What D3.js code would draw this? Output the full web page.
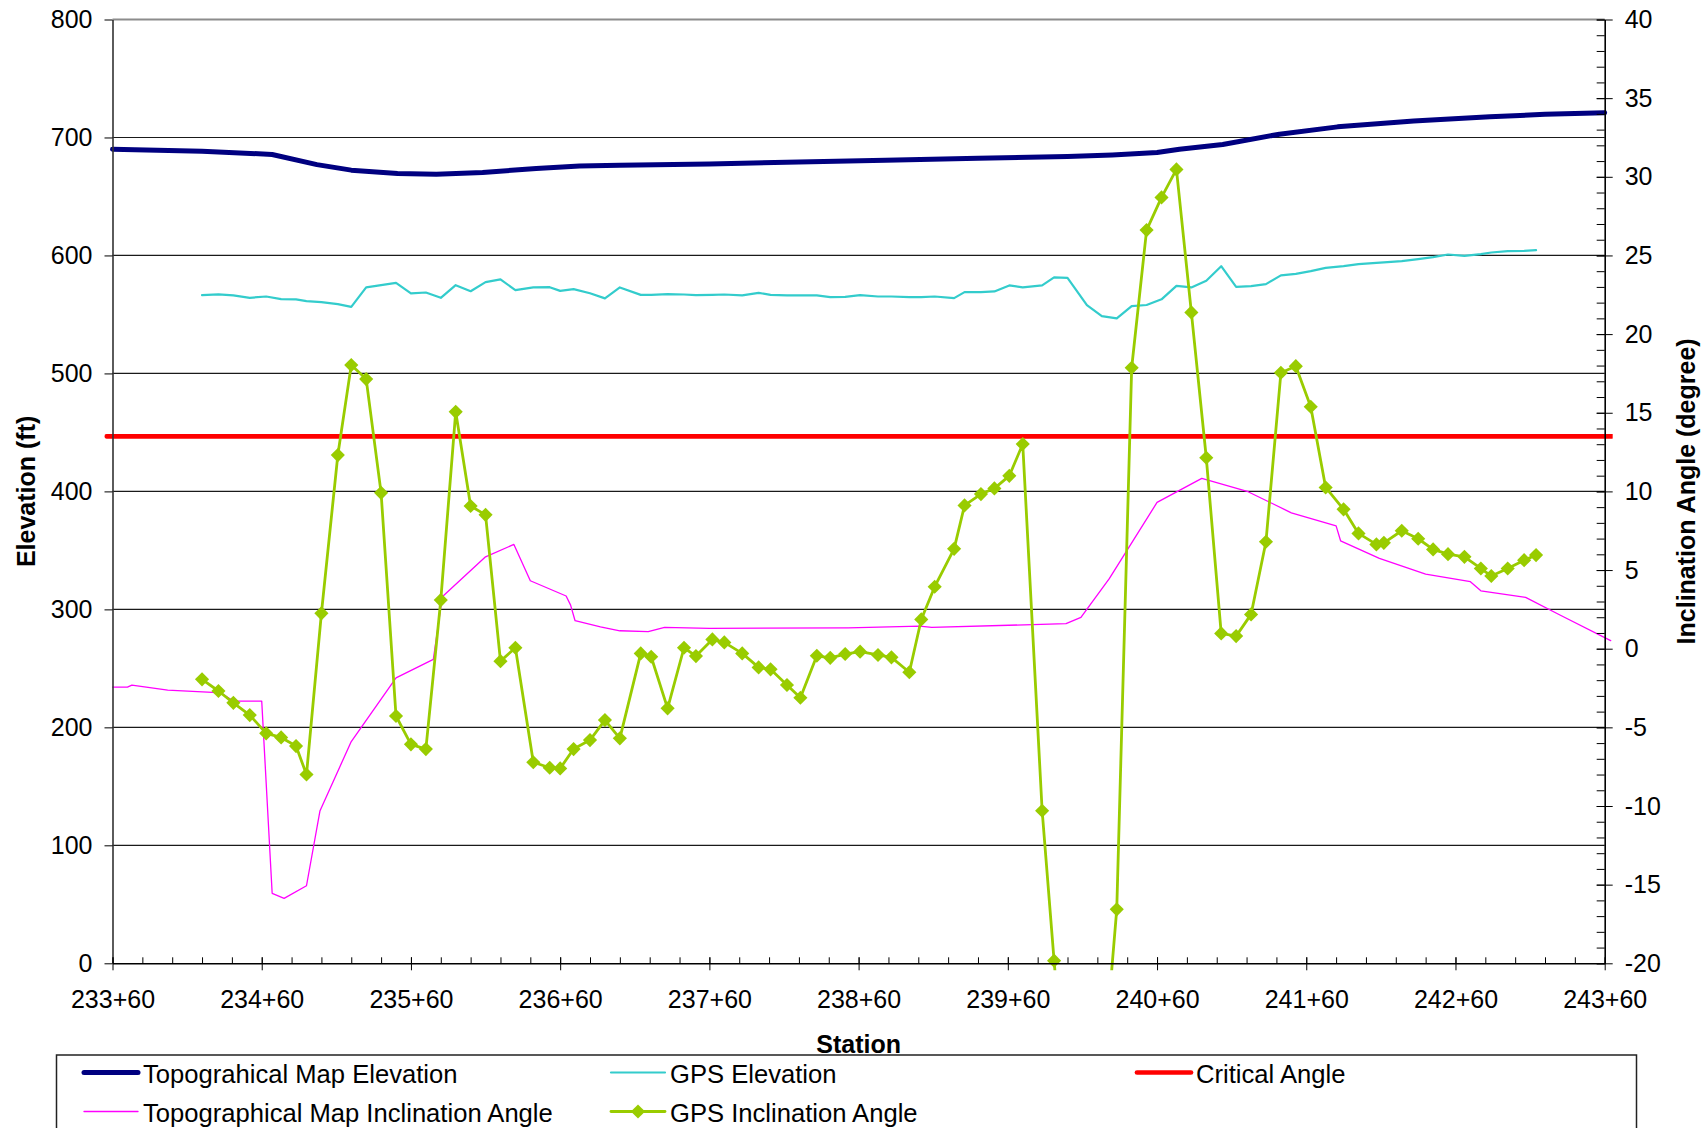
<!DOCTYPE html>
<html lang="en">
<head>
<meta charset="UTF-8">
<title>Elevation and Inclination Angle</title>
<script src="https://d3js.org/d3.v7.min.js"></script>
<style>
  body { margin: 0; background: #fff; }
  svg text { font-family: "Liberation Sans", Arial, sans-serif; fill: #000; }
</style>
</head>
<body>
<svg width="1708" height="1128"></svg>
<script>
    // Topographical map elevation (ft) by station (ft)
    const topoStation = [23360, 23420, 23467, 23497, 23520, 23551, 23577, 23608, 23644, 23673,
        23700, 23760, 23820, 23878, 23940, 24000, 24030, 24060, 24075, 24104,
        24142, 24181, 24232, 24283, 24320, 24360];
    const topoElev = [690.0, 688.4, 685.6, 677.0, 672.3, 669.5, 668.9, 670.3, 673.7, 675.8,
        676.5, 677.5, 679.3, 680.7, 682.3, 683.8, 685.2, 687.3, 690.0, 694.0,
        702.8, 709.0, 714.0, 717.5, 719.6, 721.0];

    // Topographical map inclination angle (degree)
    const topoAngStation = [23360, 23370, 23373, 23397, 23427, 23433, 23441, 23460, 23467, 23475,
        23490, 23499, 23520, 23550, 23575, 23581, 23610, 23629, 23640, 23664,
        23667, 23670, 23687, 23700, 23719, 23730, 23760, 23853, 23901, 23909,
        23999, 24009, 24028, 24060, 24090, 24121, 24150, 24180, 24183, 24209,
        24240, 24270, 24277, 24307, 24330, 24364];
    const topoAngle = [-2.44, -2.44, -2.31, -2.63, -2.78, -2.84, -3.33, -3.33, -15.55, -15.87,
        -15.07, -10.32, -5.9, -1.85, -0.68, 3.3, 5.84, 6.63, 4.32, 3.35,
        2.77, 1.78, 1.39, 1.14, 1.08, 1.36, 1.29, 1.33, 1.44, 1.36,
        1.59, 1.99, 4.45, 9.3, 10.83, 9.98, 8.64, 7.81, 6.86, 5.74,
        4.74, 4.26, 3.68, 3.26, 2.14, 0.51];

    // GPS survey: station, elevation (ft), inclination angle (degree)
    const gpsStation = [23420, 23431, 23441, 23452, 23463, 23473, 23483, 23490, 23500, 23511,
        23520, 23530, 23540, 23550, 23560, 23570, 23580, 23590, 23600, 23610,
        23620, 23630, 23642, 23653, 23660, 23669, 23680, 23690, 23700, 23714,
        23721, 23732, 23743, 23751, 23762, 23770, 23782, 23793, 23801, 23812,
        23821, 23832, 23841, 23851, 23861, 23873, 23882, 23894, 23902, 23911,
        23924, 23931, 23942, 23951, 23961, 23970, 23983, 23991, 24000, 24013,
        24023, 24033, 24043, 24053, 24063, 24073, 24083, 24093, 24103, 24113,
        24123, 24133, 24143, 24153, 24163, 24173, 24185, 24195, 24207, 24212,
        24224, 24235, 24245, 24255, 24266, 24277, 24284, 24295, 24306, 24314];
    const gpsElev = [566.4, 567.0, 566.1, 564.1, 565.2, 563.0, 562.7, 561.3, 560.4, 558.7,
        556.4, 572.9, 574.8, 576.8, 567.8, 568.6, 564.1, 574.8, 569.7, 577.4,
        579.7, 570.6, 572.9, 573.1, 570.0, 571.5, 568.0, 563.6, 572.9, 566.6,
        566.6, 567.2, 566.9, 566.4, 566.6, 566.9, 566.1, 568.3, 566.6, 566.1,
        566.1, 566.1, 564.7, 564.9, 566.4, 565.2, 565.2, 564.7, 564.7, 565.2,
        563.8, 568.9, 568.9, 569.5, 574.6, 572.9, 574.6, 581.4, 581.0, 557.9,
        548.6, 546.6, 557.0, 558.0, 562.8, 574.2, 572.9, 578.5, 590.9, 573.4,
        574.0, 575.7, 583.1, 584.4, 586.7, 589.5, 590.9, 592.6, 593.7, 594.1,
        595.2, 596.9, 598.6, 600.8, 599.7, 601.1, 602.5, 603.6, 603.9, 604.5];
    const gpsAngle = [-1.95, -2.69, -3.44, -4.22, -5.38, -5.64, -6.19, -8.0, 2.25, 12.31,
        18.03, 17.14, 9.91, -4.28, -6.08, -6.38, 3.09, 15.06, 9.07, 8.51,
        -0.79, 0.06, -7.22, -7.57, -7.61, -6.38, -5.81, -4.54, -5.70, -0.30,
        -0.51, -3.79, 0.06, -0.47, 0.59, 0.40, -0.30, -1.19, -1.31, -2.31,
        -3.12, -0.45, -0.58, -0.34, -0.19, -0.40, -0.55, -1.50, 1.86, 3.94,
        6.35, 9.11, 9.83, 10.19, 10.99, 13.01, -10.30, -19.83, -30, -40,
        -28, -16.57, 17.86, 26.61, 28.69, 30.47, 21.38, 12.14, 0.97, 0.80,
        2.18, 6.80, 17.54, 17.96, 15.38, 10.25, 8.86, 7.33, 6.63, 6.73,
        7.50, 6.99, 6.31, 6.01, 5.84, 5.10, 4.62, 5.10, 5.63, 5.95];

    // Critical angle (degree)
    const critStation = [23356, 24365];
    const critAngle = [13.5, 13.5];

    const elevTicks = d3.range(0, 801, 100);
    const angleTicks = d3.range(-20, 41, 5);
    const angleMinor = d3.range(-20, 41, 1);
    const stationTicks = d3.range(23360, 24361, 100);
    const stationMinor = d3.range(23360, 24361, 20);

    const plot = {left: 112.5, right: 1604.7, top: 19.5, bottom: 963.3};
    const svg = d3.select('svg');

    const x = d3.scaleLinear().domain([23360, 24360]).range([plot.left, plot.right]);
    const yL = d3.scaleLinear().domain([0, 800]).range([plot.bottom, plot.top]);
    const yR = d3.scaleLinear().domain([-20, 40]).range([plot.bottom, plot.top]);

    const fmtStation = v => Math.floor(v / 100) + '+' + String(v % 100).padStart(2, '0');

    // gridlines
    svg.append('g')
        .selectAll('line')
        .data(elevTicks.filter(d => d > 0 && d < 800))
        .enter().append('line')
        .attr('x1', plot.left).attr('x2', plot.right)
        .attr('y1', d => yL(d)).attr('y2', d => yL(d))
        .style('stroke', '#1a1a1a').style('stroke-width', 1.2);
    svg.append('line')
        .attr('x1', plot.left).attr('x2', plot.right)
        .attr('y1', plot.top).attr('y2', plot.top)
        .style('stroke', '#8c8c8c').style('stroke-width', 2);

    // clip (Excel lets lines run a few px past the plot edge)
    svg.append('clipPath').attr('id', 'clip')
        .append('rect')
        .attr('x', plot.left - 8).attr('y', plot.top - 8)
        .attr('width', plot.right - plot.left + 16)
        .attr('height', plot.bottom - plot.top + 15);

    const series = svg.append('g').attr('clip-path', 'url(#clip)');

    function drawLine(xs, ys, yScale, color, w) {
        const pts = xs.map((s, i) => [x(s), yScale(ys[i])]);
        series.append('path')
            .attr('d', d3.line()(pts))
            .style('fill', 'none')
            .style('stroke', color)
            .style('stroke-width', w)
            .style('stroke-linejoin', 'round')
            .style('stroke-linecap', 'round');
    }

    drawLine(topoStation, topoElev, yL, '#000080', 5);
    drawLine(gpsStation, gpsElev, yL, '#33CCCC', 2.2);
    drawLine(critStation, critAngle, yR, '#FF0000', 4.7);
    drawLine(topoAngStation, topoAngle, yR, '#FF00FF', 1.3);
    drawLine(gpsStation, gpsAngle, yR, '#99CC00', 2.8);

    const diamond = d3.symbol(d3.symbolSquare, 100);
    svg.append('g')
        .selectAll('path')
        .data(gpsStation.map((s, i) => [s, gpsAngle[i]]).filter(d => d[1] >= -20.5))
        .enter().append('path')
        .attr('d', diamond)
        .attr('transform', d => `translate(${x(d[0])},${yR(d[1])}) rotate(45)`)
        .style('fill', '#99CC00');

    // left axis
    const gLeft = svg.append('g')
        .attr('transform', `translate(${plot.left},0)`)
        .call(d3.axisLeft(yL).tickValues(elevTicks).tickSize(8).tickPadding(12).tickSizeOuter(0));
    gLeft.select('.domain').style('stroke', '#333').style('stroke-width', 1.6);
    gLeft.selectAll('text').style('font-size', '25px');

    // right axis
    const gRightMinor = svg.append('g')
        .attr('transform', `translate(${plot.right},0)`)
        .call(d3.axisRight(yR).tickValues(angleMinor).tickSize(-8).tickFormat('').tickSizeOuter(0));
    gRightMinor.select('.domain').remove();
    const gRight = svg.append('g')
        .attr('transform', `translate(${plot.right},0)`)
        .call(d3.axisRight(yR).tickValues(angleTicks).tickSize(8).tickPadding(12)
            .tickFormat(d => String(d)).tickSizeOuter(0));
    gRight.selectAll('.tick line').attr('x1', -8);
    gRight.select('.domain').style('stroke', '#000').style('stroke-width', 1.6);
    gRight.selectAll('text').style('font-size', '25px');

    // bottom axis
    const gBottomMinor = svg.append('g')
        .attr('transform', `translate(0,${plot.bottom})`)
        .call(d3.axisBottom(x).tickValues(stationMinor).tickSize(-6).tickFormat('').tickSizeOuter(0));
    gBottomMinor.select('.domain').remove();
    const gBottom = svg.append('g')
        .attr('transform', `translate(0,${plot.bottom})`)
        .call(d3.axisBottom(x).tickValues(stationTicks).tickSize(7).tickPadding(20)
            .tickFormat(fmtStation).tickSizeOuter(0));
    gBottom.selectAll('.tick line').attr('y1', -6);
    gBottom.select('.domain').style('stroke', '#000').style('stroke-width', 1.6);
    gBottom.selectAll('text').style('font-size', '25px');

    // axis titles
    svg.append('text')
        .attr('transform', `translate(35,${(plot.top + plot.bottom) / 2}) rotate(-90)`)
        .attr('text-anchor', 'middle')
        .style('font-size', '25px').style('font-weight', 'bold')
        .text('Elevation (ft)');
    svg.append('text')
        .attr('transform', `translate(1695,${(plot.top + plot.bottom) / 2}) rotate(-90)`)
        .attr('text-anchor', 'middle')
        .style('font-size', '25px').style('font-weight', 'bold')
        .text('Inclination Angle (degree)');
    svg.append('text')
        .attr('x', (plot.left + plot.right) / 2).attr('y', 1053)
        .attr('text-anchor', 'middle')
        .style('font-size', '25px').style('font-weight', 'bold')
        .text('Station');

    // legend
    svg.append('rect')
        .attr('x', 56.5).attr('y', 1055)
        .attr('width', 1580).attr('height', 120)
        .style('fill', '#fff').style('stroke', '#222').style('stroke-width', 1.5);

    const legendItems = [
        {name: 'Topograhical Map Elevation', color: '#000080', w: 5, col: 0, row: 0},
        {name: 'GPS Elevation', color: '#33CCCC', w: 2.2, col: 1, row: 0},
        {name: 'Critical Angle', color: '#FF0000', w: 4.7, col: 2, row: 0},
        {name: 'Topographical Map Inclination Angle', color: '#FF00FF', w: 1.3, col: 0, row: 1},
        {name: 'GPS Inclination Angle', color: '#99CC00', w: 2.8, col: 1, row: 1, marker: true}
    ];
    const colX = [84, 611, 1137];
    const rowY = [1072.5, 1111.5];

    const leg = svg.append('g').selectAll('g')
        .data(legendItems)
        .enter().append('g')
        .attr('transform', d => `translate(${colX[d.col]},${rowY[d.row]})`);
    leg.append('line')
        .attr('x1', 0).attr('x2', 54)
        .style('stroke', d => d.color)
        .style('stroke-width', d => d.w)
        .style('stroke-linecap', 'round');
    leg.filter(d => d.marker).append('path')
        .attr('d', diamond)
        .attr('transform', 'translate(27,0) rotate(45)')
        .style('fill', d => d.color);
    leg.append('text')
        .attr('x', 59).attr('y', 10.5)
        .style('font-size', '25.6px')
        .text(d => d.name);
</script>
</body>
</html>
